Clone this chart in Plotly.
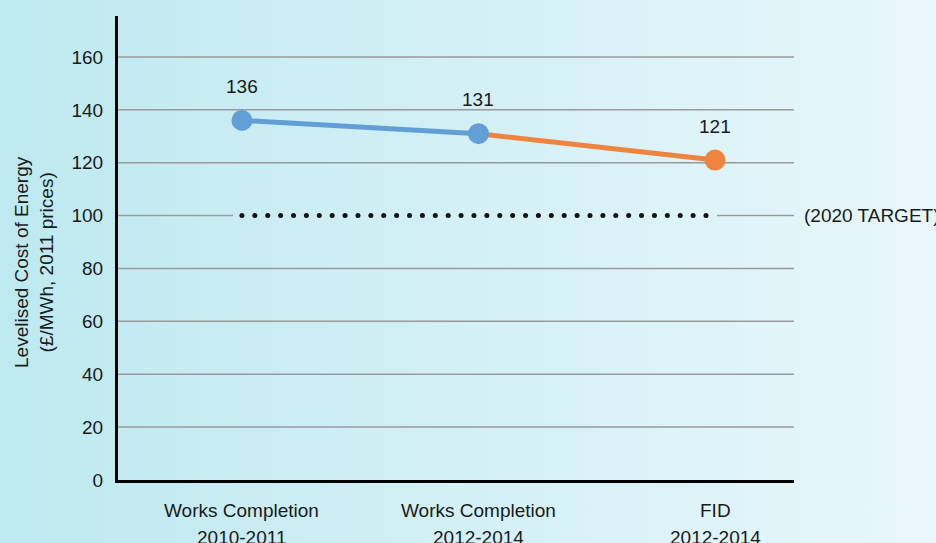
import base64
import numpy as np
import plotly.graph_objects as go

# ---- data ----
categories_line1 = ["Works Completion", "Works Completion", "FID"]
categories_line2 = ["2010-2011", "2012-2014", "2012-2014"]
lcoe_values = [136, 131, 121]
lcoe_labels = ["136", "131", "121"]
point_colors = ["#629FD6", "#629FD6", "#EF8440"]
target_value = 100
target_label = "(2020 TARGET)"
y_ticks = [0, 20, 40, 60, 80, 100, 120, 140, 160]

# ---- layout geometry ----
W, H = 936, 543
ml, mr, mt, mb = 118, 142, 16, 63
pw, ph = W - ml - mr, H - mt - mb

font_family = "Liberation Sans, Arial, sans-serif"
txt_color = "#1a1a1a"
fs = 19
blue = "#629FD6"
orange = "#EF8440"
grid_color = "#9a9a9a"

x_idx = list(range(len(lcoe_values)))

fig = go.Figure()

# orange segment (2nd -> 3rd)
fig.add_trace(go.Scatter(
    x=x_idx[1:], y=lcoe_values[1:], mode="lines",
    line=dict(color=orange, width=5),
    hoverinfo="skip", showlegend=False))
# blue segment (1st -> 2nd)
fig.add_trace(go.Scatter(
    x=x_idx[:2], y=lcoe_values[:2], mode="lines",
    line=dict(color=blue, width=5),
    hoverinfo="skip", showlegend=False))
# point markers
fig.add_trace(go.Scatter(
    x=x_idx, y=lcoe_values, mode="markers",
    marker=dict(size=21, color=point_colors, opacity=1, line=dict(width=0)),
    hoverinfo="skip", showlegend=False))

# dotted target line
dot_x = np.linspace(0, 1.962, 37)
fig.add_trace(go.Scatter(
    x=dot_x, y=[target_value] * len(dot_x), mode="markers",
    marker=dict(size=5, color="#111111"),
    hoverinfo="skip", showlegend=False))

# gridlines as shapes (the target gridline is interrupted by the dots)
shapes = []
for v in y_ticks[1:]:
    if v == target_value:
        shapes.append(dict(type="line", xref="paper", yref="y", x0=0, x1=(233 - ml) / pw,
                           y0=v, y1=v, line=dict(color=grid_color, width=1.5), layer="below"))
        shapes.append(dict(type="line", xref="paper", yref="y", x0=(717 - ml) / pw, x1=1,
                           y0=v, y1=v, line=dict(color=grid_color, width=1.5), layer="below"))
    else:
        shapes.append(dict(type="line", xref="paper", yref="y", x0=0, x1=1,
                           y0=v, y1=v, line=dict(color=grid_color, width=1.5), layer="below"))

annotations = []
# data labels
for xi, v, lab in zip(x_idx, lcoe_values, lcoe_labels):
    annotations.append(dict(x=xi, y=v, xref="x", yref="y", text=lab, showarrow=False,
                            yshift=34, font=dict(size=fs, color=txt_color, family=font_family)))
# target label
annotations.append(dict(x=(802 - ml) / pw, y=target_value, xref="paper", yref="y",
                        text=target_label, showarrow=False, xanchor="left",
                        font=dict(size=fs, color=txt_color, family=font_family)))
# category labels (two lines)
for xi, l1, l2 in zip(x_idx, categories_line1, categories_line2):
    annotations.append(dict(x=xi, y=(480 - 510) / ph, xref="x", yref="paper", text=l1,
                            showarrow=False, yanchor="middle",
                            font=dict(size=fs, color=txt_color, family=font_family)))
    annotations.append(dict(x=xi, y=(480 - 537) / ph, xref="x", yref="paper", text=l2,
                            showarrow=False, yanchor="middle",
                            font=dict(size=fs, color=txt_color, family=font_family)))
# y-axis title
annotations.append(dict(x=(34 - ml) / pw, y=(480 - 262) / ph, xref="paper", yref="paper",
                        text="Levelised Cost of Energy<br>(£/MWh, 2011 prices)",
                        showarrow=False, textangle=-90, xanchor="center", yanchor="middle",
                        font=dict(size=fs, color=txt_color, family=font_family)))

# gradient background via inline SVG image
svg = ('<svg xmlns="http://www.w3.org/2000/svg" width="936" height="543">'
       '<defs><linearGradient id="g" x1="0" y1="0" x2="1" y2="0">'
       '<stop offset="0" stop-color="rgb(190,233,240)"/>'
       '<stop offset="1" stop-color="rgb(232,247,251)"/>'
       '</linearGradient></defs><rect width="936" height="543" fill="url(#g)"/></svg>')
src = "data:image/svg+xml;base64," + base64.b64encode(svg.encode()).decode()

fig.update_layout(
    width=W, height=H,
    margin=dict(l=ml, r=mr, t=mt, b=mb),
    paper_bgcolor="rgb(205,238,244)",
    plot_bgcolor="rgba(0,0,0,0)",
    font=dict(family=font_family, size=fs, color=txt_color),
    shapes=shapes,
    annotations=annotations,
    images=[dict(source=src, xref="paper", yref="paper",
                 x=-ml / pw, y=(ph + mt) / ph, sizex=W / pw, sizey=H / ph,
                 xanchor="left", yanchor="top", sizing="stretch", layer="below")],
    xaxis=dict(range=[-0.524, 2.334], showgrid=False, zeroline=False,
               showline=True, linecolor="black", linewidth=3,
               showticklabels=False, ticks=""),
    yaxis=dict(range=[0, 175.5], tickvals=y_ticks, showgrid=False, zeroline=False,
               showline=True, linecolor="black", linewidth=3, ticks="",
               ticklabelstandoff=8,
               tickfont=dict(size=fs, color=txt_color, family=font_family)),
)

fig.write_html("out.html",
               config={"displayModeBar": False, "staticPlot": True},
               post_script="document.body.style.margin='0';document.body.style.overflow='hidden';")
